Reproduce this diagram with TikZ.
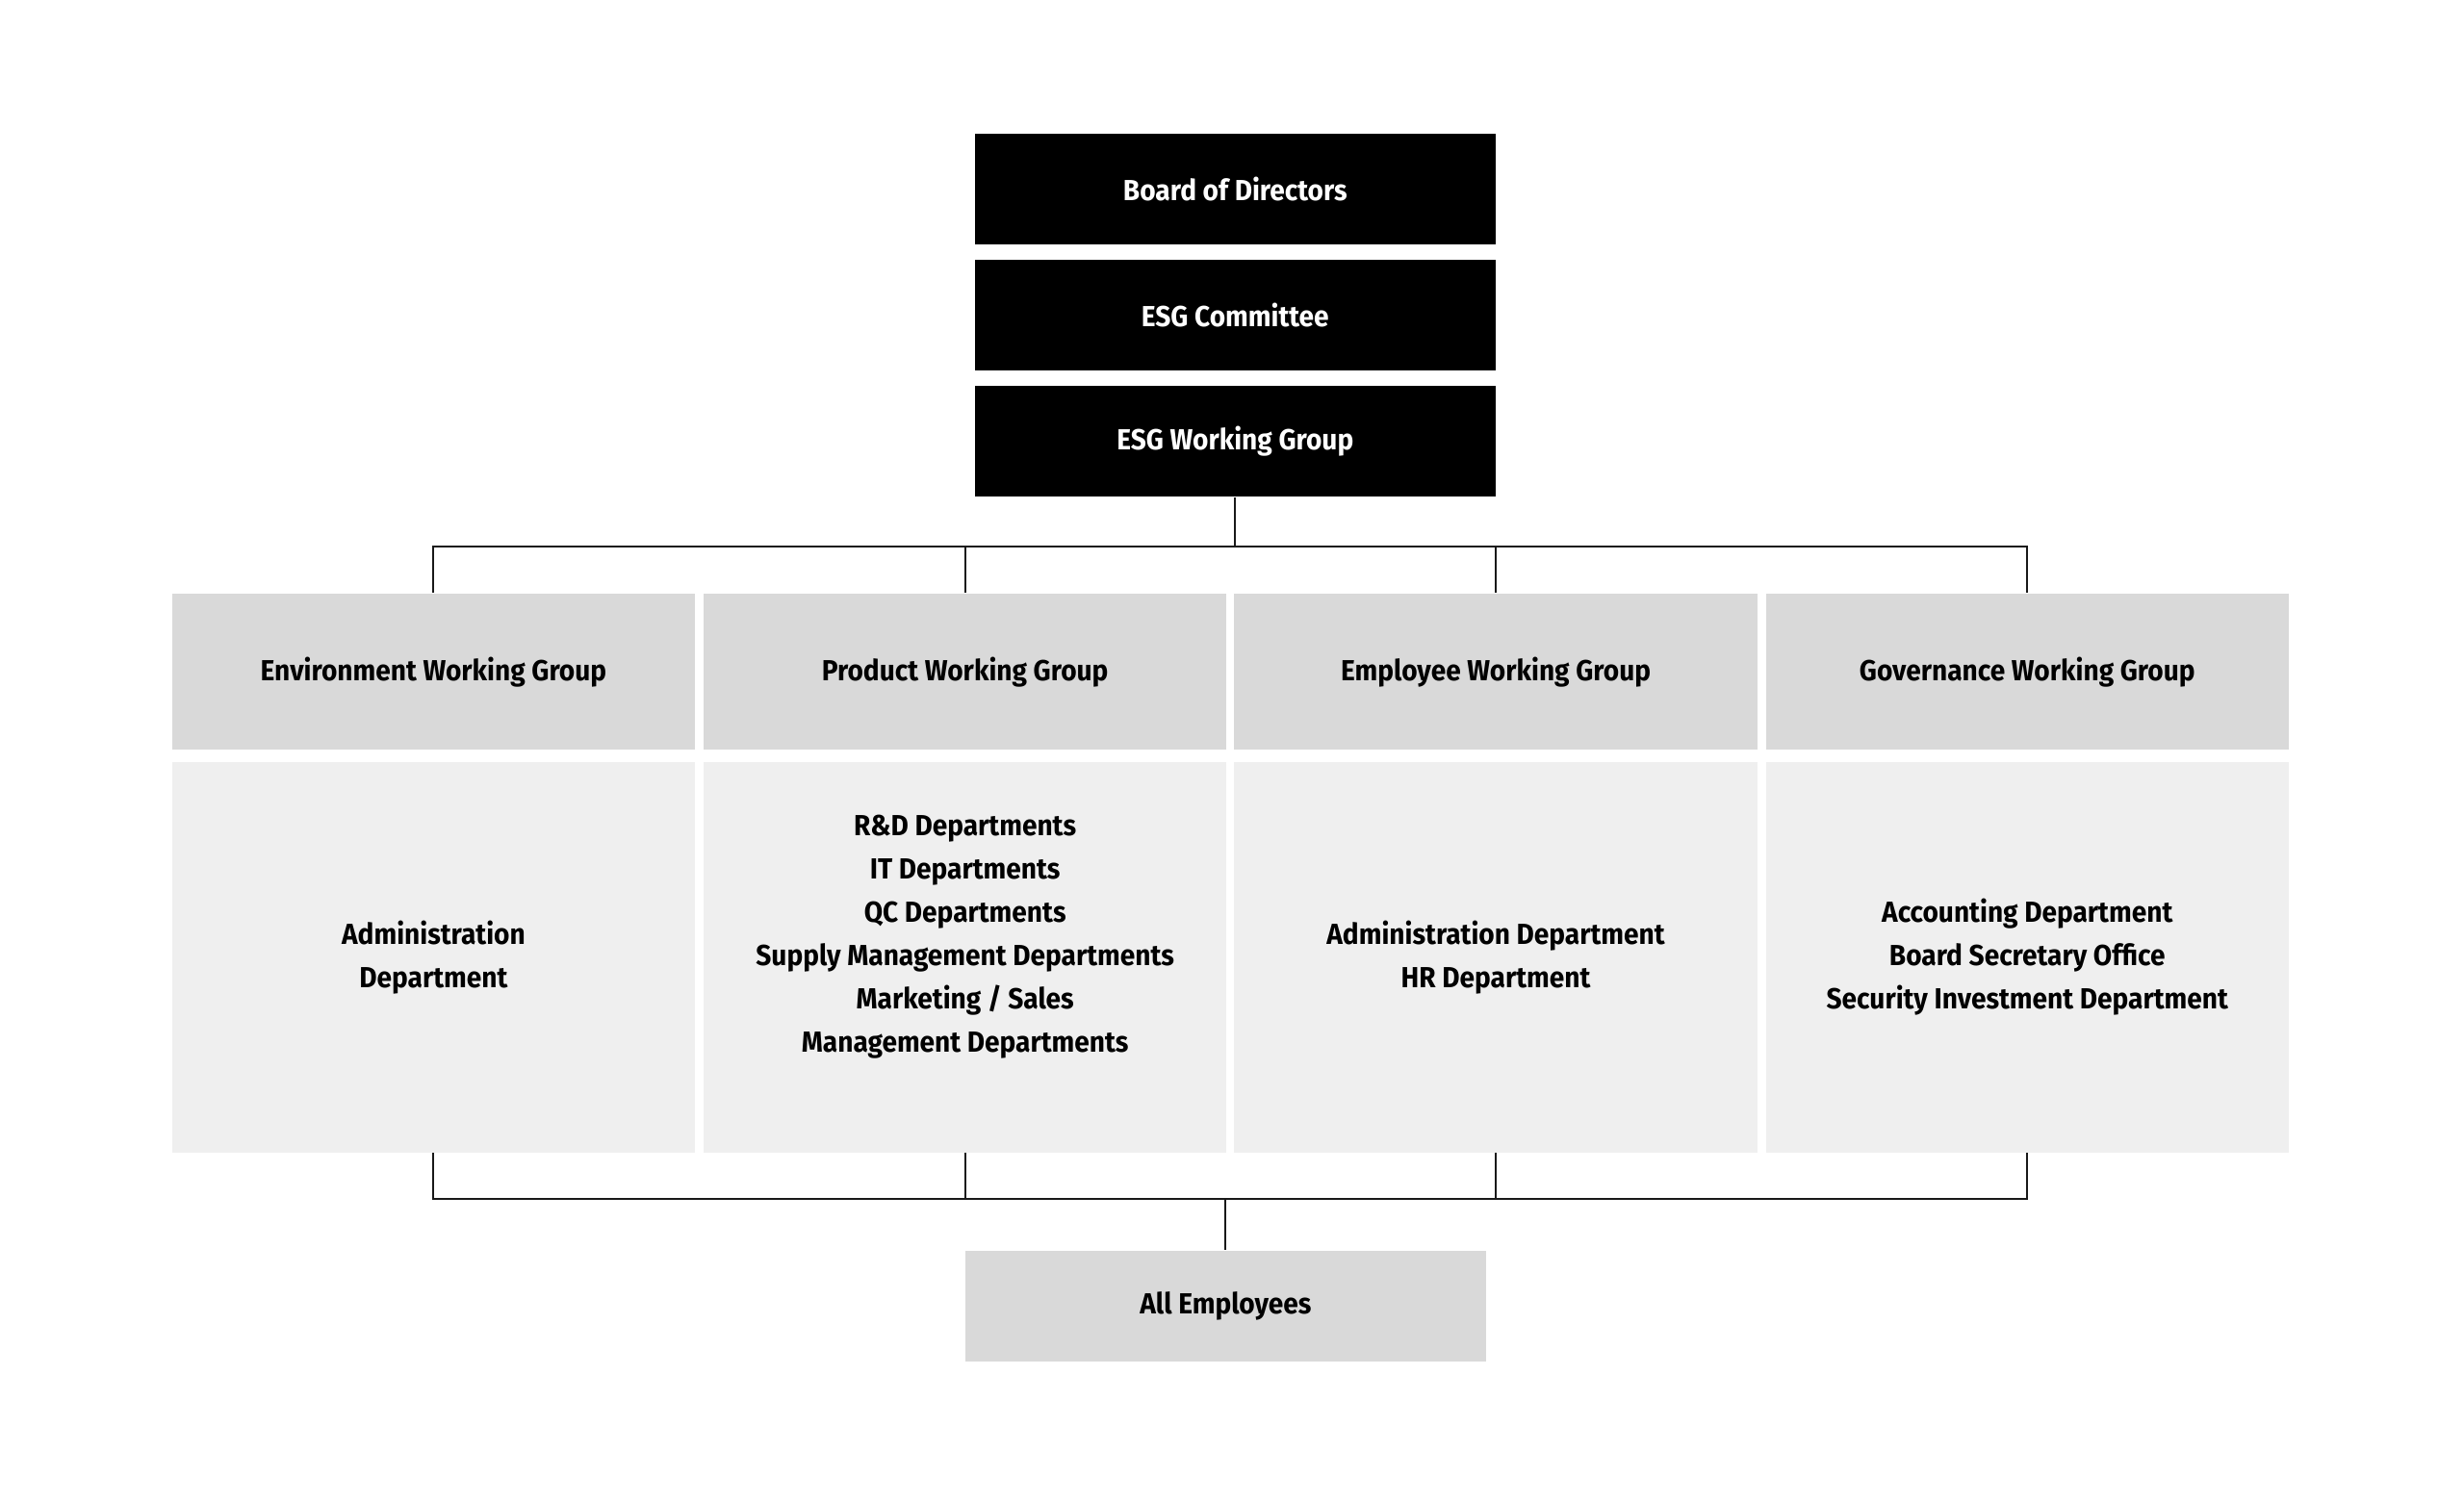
\documentclass[tikz,border=0pt]{standalone}
\usepackage{fontspec}
\setmainfont{Fira Sans}[FakeStretch=0.93]
\usetikzlibrary{positioning}
\definecolor{headgray}{HTML}{D9D9D9}
\definecolor{bodygray}{HTML}{EFEFEF}
\tikzset{
  txt/.style={font=\bfseries\fontsize{9.2}{13.7}\selectfont, align=center},
  topbox/.style={txt, fill=black, text=white, minimum width=165pt, minimum height=35pt, inner sep=0pt},
  headbox/.style={txt, fill=headgray, minimum width=165.5pt, minimum height=49.5pt, inner sep=0pt},
  bodybox/.style={txt, fill=bodygray, minimum width=165.5pt, minimum height=123.5pt, inner sep=0pt},
  wire/.style={draw=black!90, line width=.6pt},
}
\begin{document}
\begin{tikzpicture}[x=.5pt,y=-.5pt]
\useasboundingbox (0,0) rectangle (1560,951);
\node[topbox] (board) at (782,120) {Board of Directors};
\node[topbox, below=4.5pt of board] (comm) {ESG Committee};
\node[topbox, below=4.5pt of comm] (esgwg) {ESG Working Group};
\path (274.5,425.5) node[headbox] (envh) {Environment Working Group}
  ++(336.5,0) node[headbox] (prodh) {Product Working Group}
  ++(336,0) node[headbox] (emph) {Employee Working Group}
  ++(336.5,0) node[headbox] (govh) {Governance Working Group};
\node[bodybox, below=3.5pt of envh] (envb) {Administration\\Department};
\node[bodybox, below=3.5pt of prodh] (prodb) {};
\node[txt] (prodt) at ([yshift=6.5pt]prodb.center) {R\&D Departments\\IT Departments\\QC Departments\\Supply Management Departments\\Marketing / Sales\\Management Departments};
\node[bodybox, below=3.5pt of emph] (empb) {Administration Department\\HR Department};
\node[bodybox, below=3.5pt of govh] (govb) {Accounting Department\\Board Secretary Office\\Security Investment Department};
\node[headbox, minimum width=165pt, minimum height=35pt] (allemp) at (776,827) {All Employees};
\coordinate (topbus) at (0,346);
\coordinate (botbus) at (0,759);
\draw[wire] (esgwg.south) -- (esgwg.south |- topbus);
\draw[wire] (envh.north) |- (topbus -| govh.north) -- (govh.north);
\draw[wire] (prodh.north) -- (prodh.north |- topbus) (emph.north) -- (emph.north |- topbus);
\draw[wire] (envb.south) |- (botbus -| govb.south) -- (govb.south);
\draw[wire] (prodb.south) -- (prodb.south |- botbus) (empb.south) -- (empb.south |- botbus);
\draw[wire] (allemp.north) -- (allemp.north |- botbus);
\end{tikzpicture}
\end{document}
